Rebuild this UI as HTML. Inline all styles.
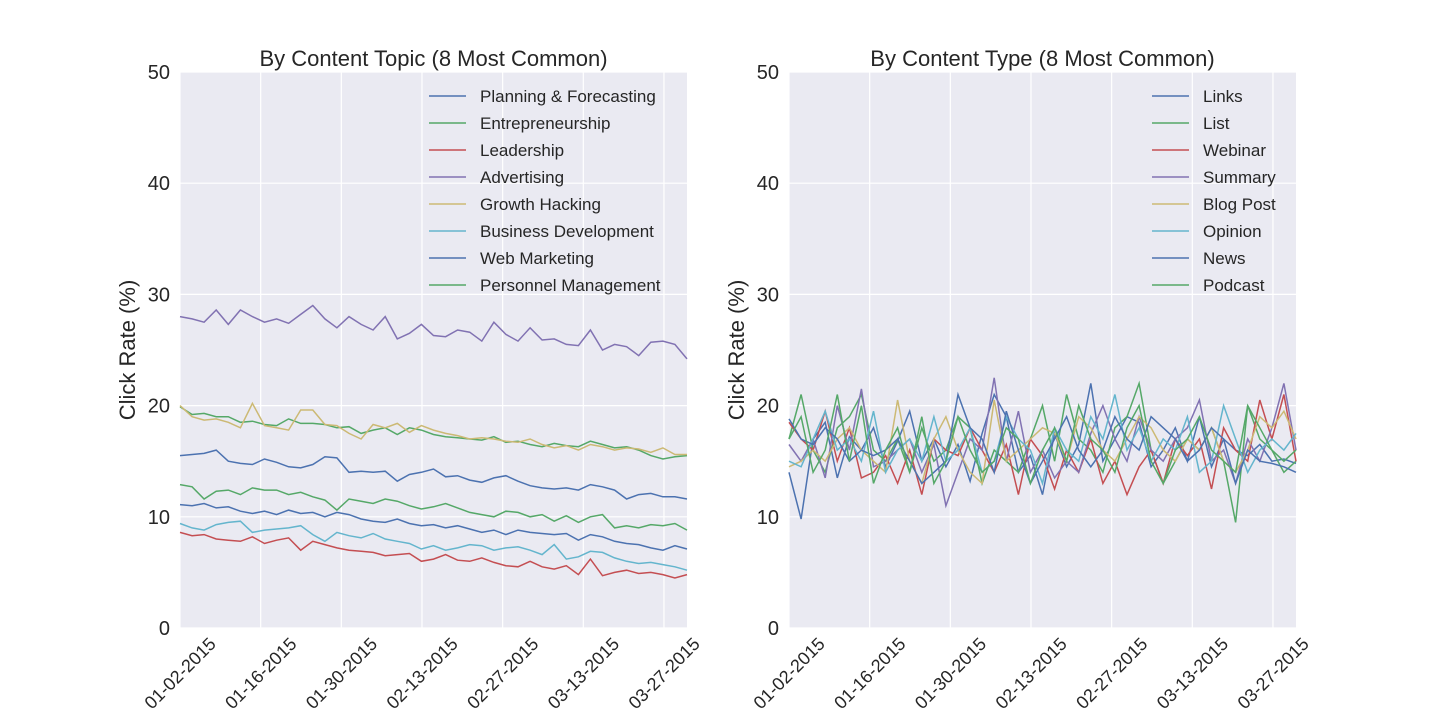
<!DOCTYPE html>
<html><head><meta charset="utf-8"><style>
html,body{margin:0;padding:0;background:#fff;width:1440px;height:720px;overflow:hidden}
svg{font-family:"Liberation Sans","DejaVu Sans",sans-serif}
</style></head><body>
<svg id="chart" width="1440" height="720" viewBox="0 0 1440 720"></svg>
<script>
const dateTicks = ["01-02-2015","01-16-2015","01-30-2015","02-13-2015","02-27-2015","03-13-2015","03-27-2015"];
const yTicks = [0,10,20,30,40,50];
const colors = ["#4C72B0","#55A868","#C44E52","#8172B2","#CCB974","#64B5CD","#4C72B0","#55A868"];
const topicNames = ["Planning & Forecasting","Entrepreneurship","Leadership","Advertising","Growth Hacking","Business Development","Web Marketing","Personnel Management"];
const typeNames = ["Links","List","Webinar","Summary","Blog Post","Opinion","News","Podcast"];
const planning = [15.5,15.6,15.7,16,15,14.8,14.7,15.2,14.9,14.5,14.4,14.7,15.4,15.3,14,14.1,14,14.1,13.2,13.8,14,14.3,13.6,13.7,13.3,13.1,13.5,13.7,13.2,12.8,12.6,12.5,12.6,12.4,12.9,12.7,12.4,11.6,12,12.1,11.8,11.8,11.6];
const entrepreneurship = [19.9,19.2,19.3,19.0,19.0,18.5,18.6,18.3,18.2,18.8,18.4,18.4,18.3,18.0,18.1,17.5,17.8,18.0,17.4,18.0,17.8,17.4,17.2,17.1,17.0,16.9,17.2,16.7,16.8,16.5,16.3,16.6,16.4,16.3,16.8,16.5,16.2,16.3,16.0,15.5,15.2,15.4,15.5];
const leadership = [8.6,8.3,8.4,8.0,7.9,7.8,8.2,7.6,7.9,8.1,7.0,7.8,7.5,7.2,7.0,6.9,6.8,6.5,6.6,6.7,6.0,6.2,6.6,6.1,6.0,6.3,5.9,5.6,5.5,6.0,5.5,5.3,5.6,4.8,6.2,4.7,5.0,5.2,4.9,5.0,4.8,4.5,4.8];
const advertising = [28,27.8,27.5,28.6,27.3,28.6,28,27.5,27.8,27.4,28.2,29,27.8,27,28,27.3,26.8,28,26,26.5,27.3,26.3,26.2,26.8,26.6,25.8,27.5,26.4,25.8,27,25.9,26,25.5,25.4,26.8,25,25.5,25.3,24.5,25.7,25.8,25.5,24.2];
const growth = [20,19,18.7,18.8,18.5,18,20.2,18.2,18,17.8,19.6,19.6,18.3,18.2,17.5,17,18.3,18,18.4,17.6,18.2,17.8,17.5,17.3,17.0,17.1,17.0,16.8,16.7,17.0,16.5,16.2,16.4,16.0,16.5,16.3,16.0,16.2,16.1,15.8,16.2,15.6,15.6];
const business = [9.4,9.0,8.8,9.3,9.5,9.6,8.6,8.8,8.9,9.0,9.2,8.4,7.8,8.6,8.3,8.1,8.5,8.0,7.8,7.6,7.1,7.4,7.0,7.2,7.5,7.4,7.0,7.2,7.3,7.0,6.6,7.5,6.2,6.4,6.9,6.8,6.3,6.0,5.8,5.9,5.7,5.5,5.2];
const webmkt = [11.1,11.0,11.2,10.8,10.9,10.5,10.3,10.5,10.2,10.6,10.3,10.4,10.0,10.4,10.2,9.8,9.6,9.5,9.8,9.4,9.2,9.3,9.0,9.2,8.9,8.6,8.8,8.4,8.8,8.6,8.5,8.4,8.5,7.9,8.4,8.2,7.8,7.6,7.5,7.2,7.0,7.4,7.1];
const personnel = [12.9,12.7,11.6,12.3,12.4,12.0,12.6,12.4,12.4,12.0,12.2,11.8,11.5,10.6,11.6,11.4,11.2,11.6,11.4,11.0,10.7,10.9,11.2,10.8,10.4,10.2,10.0,10.5,10.4,10.0,10.2,9.6,10.1,9.5,10.0,10.2,9.0,9.2,9.0,9.3,9.2,9.4,8.8];
const links = [14,9.8,17,18.5,13.5,17.2,16,18,14.5,16.8,19.5,15,17,14.5,16.5,13.2,17.5,21,19,14,15.5,12,17.5,14.5,16.5,22,15,17,19,18.5,14.5,16,18,15,19,14.5,17,16,15.5,16.5,15,15.2,14.8];
const list = [17,21,16,14,18,19,21,16,15,17,14,18,15,16,19,18,13,16,15,14,17,20,15,21,17,16,14,18,19,22,16,13,15,17,16,18,15,9.5,20,17,16,14,15];
const webinar = [18.5,17,16,19.5,15,18,13.5,14,15.5,13,16,12,17,16,15.5,18,16,14,16.5,12,17,15.5,12.5,16,14,17,13,15,12,14.5,16,13,17,15.5,17,12.5,18,16,15,20.5,17,21,15];
const summary = [16.5,15,17,13.5,20,16,21.5,14.5,15,16,17,14,16.5,11,14,17,16,22.5,15,19.5,14,16,13.5,15,14,17.5,20,17,15,19,16,15,17,18,20.5,15,16,13,17,15,18,22,16];
const blog = [14.5,15,16,15,17,18,16,15,14,20.5,15,13,17,19,16,14,13,20.5,15,16,17,18,17.5,15,19,18,16,15,17,19,18,16,15,17,16,18,15,14,16,19,18,19.5,17];
const opinion = [15,14.5,17,19.5,16,17,15,19.5,14,16,17,15,19,15,16,18,14,15,19,17,16,13,18,16,15,19,17,21,16,18,15,17,16,19,14,15,20,17,14,16,17,16,17.5];
const news = [18.8,17,16.5,18,17,15,16,15.5,16,17,15,13,14,15,21,18,17,14,19.5,16,13,15,17,19,16,14.5,16,19,17,16,19,18,17,15,16,18,17,13,16,15,14.8,14.5,14];
const podcast = [17,19,14,16,21,15,20,13,16,18,14,19,13,15,19,16,14,15,18,17,13,16,18,15,20,17,16,14,18,20,15,13,16,17,19,16,15,14,20,18,16,15,16];
const topicSeries = [planning,entrepreneurship,leadership,advertising,growth,business,webmkt,personnel];
const typeSeries = [links,list,webinar,summary,blog,opinion,news,podcast];

const NS="http://www.w3.org/2000/svg";
const svg=document.getElementById('chart');
function el(tag,attrs,parent,text){const e=document.createElementNS(NS,tag);for(const k in attrs)e.setAttribute(k,attrs[k]);if(text!==undefined)e.textContent=text;(parent||svg).appendChild(e);return e;}
const Y0=628,Y1=72;
const DAY_SPAN=88, TICK_STEP=14;
function yScale(v){return Y0-(v/50)*(Y0-Y1);}
function panel(x0,x1,title,names,series,legX,key){
  const g=el('g',{});
  
  
  const bg=el('rect',{x:x0,y:Y1,width:x1-x0,height:Y0-Y1,fill:'#EAEAF2'},g);
  
  
  const n=series[0].length;
  const xs=i=>x0+(x1-x0)*i/(n-1);
  dateTicks.forEach((d,i)=>{
    const x=x0+(x1-x0)*(i*TICK_STEP)/DAY_SPAN;
    const gl=el('line',{x1:x,x2:x,y1:Y1,y2:Y0,stroke:'#fff','stroke-width':1.2},g);
    
    
    const tx=x+37, ty=Y0+17;
    const t=el('text',{x:tx,y:ty,'font-size':18,fill:'#262626','text-anchor':'end',transform:`rotate(-45 ${tx} ${ty})`},g,d);
    
    
  });
  yTicks.forEach(v=>{
    const y=yScale(v);
    const gl=el('line',{x1:x0,x2:x1,y1:y,y2:y,stroke:'#fff','stroke-width':1.2},g);
    
    
    const t=el('text',{x:x0-10,y:y+7,'font-size':20,fill:'#262626','text-anchor':'end'},g,String(v));
    
    
  });
  series.forEach((s,k)=>{
    const d=s.map((v,i)=>(i?'L':'M')+xs(i).toFixed(1)+','+yScale(v).toFixed(1)).join('');
    const p=el('path',{d:d,fill:'none',stroke:colors[k],'stroke-width':1.5},g);
    
    
  });
  const tt=el('text',{x:(x0+x1)/2,y:66,'font-size':22,fill:'#262626','text-anchor':'middle'},g,title);
  
  
  const yl=el('text',{x:x0-45,y:(Y0+Y1)/2,'font-size':22,fill:'#262626','text-anchor':'middle',transform:`rotate(-90 ${x0-45} ${(Y0+Y1)/2})`},g,'Click Rate (%)');
  
  
  names.forEach((nm,k)=>{
    const y=96+k*27;
    const lg=el('g',{},g);
    
    
    el('line',{x1:legX,x2:legX+37,y1:y,y2:y,stroke:colors[k],'stroke-width':1.5},lg);
    el('text',{x:legX+51,y:y+6,'font-size':17,fill:'#262626'},lg,nm);
  });
}
panel(180,687,'By Content Topic (8 Most Common)',topicNames,topicSeries,429,'topic');
panel(789,1296,'By Content Type (8 Most Common)',typeNames,typeSeries,1152,'type');
</script>
</body></html>
